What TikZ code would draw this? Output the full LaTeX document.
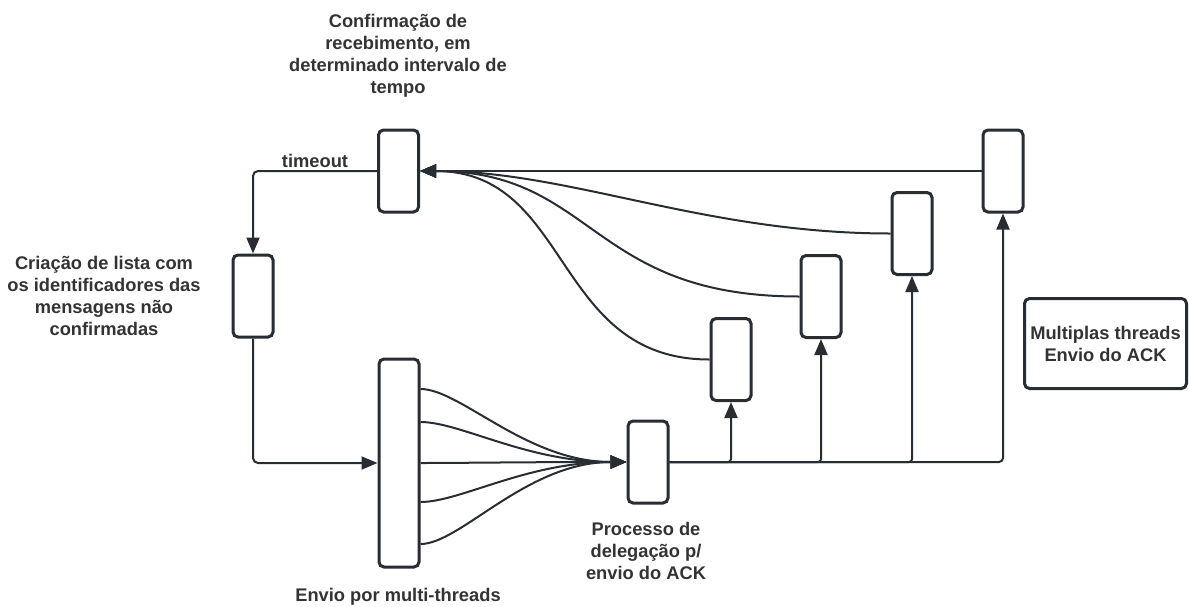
\documentclass[tikz,border=0pt]{standalone}
\usepackage{fontspec}
\setmainfont{Liberation Sans}
\usetikzlibrary{arrows.meta}
\definecolor{ink}{HTML}{282C33}
\definecolor{txt}{HTML}{333333}
\begin{document}
\begin{tikzpicture}[x=1pt,y=-1pt,
  box/.style={draw=ink, line width=3pt, rounded corners=5pt, fill=white,
              minimum width=40pt, minimum height=82pt, inner sep=0pt},
  conn/.style={draw=ink, line width=2pt, -{Triangle[length=16pt,width=13pt]}},
  lbl/.style={text=txt, font=\fontsize{18.3}{22}\selectfont\bfseries,
              align=center, inner sep=0pt}]
\useasboundingbox (0,0) rectangle (1189,606);

% process boxes
\node[box] (conf)  at (398.5,171) {};
\node[box] (crea)  at (253,296) {};
\node[box, minimum height=208pt] (envio) at (399,463) {};
\node[box] (proc)  at (648,462) {};
\node[box] (t1)    at (731,359.5) {};
\node[box] (t2)    at (821,296.5) {};
\node[box] (t3)    at (912,233.5) {};
\node[box] (t4)    at (1003,171) {};
\node[box, minimum width=162pt, minimum height=90pt, lbl, text=txt] (legend)
  at (1105.5,343.5) {Multiplas threads\\Envio do ACK};

% labels
\node[lbl] (lconf) at (398,56) {Confirmação de\\recebimento, em\\determinado intervalo de\\tempo};
\node[lbl] (ltime) at (315,161) {timeout};
\node[lbl] (lcrea) at (104,296) {Criação de lista com\\os identificadores das\\mensagens não\\confirmadas};
\node[lbl] (lenvio) at (398,597) {Envio por multi-threads};
\node[lbl] (lproc) at (646,551) {Processo de\\delegação p/\\envio do ACK};

% timeout loop back to list creation and dispatch
\draw[conn, rounded corners=5pt] (conf.west) -| (crea.north);
\draw[conn, rounded corners=5pt] (crea.south) |- (envio.west);

% fan of threads into the delegation process
\foreach \dy in {74,41,0,-39,-81}
  \draw[conn] ([yshift=\dy pt]envio.east) .. controls +(40,0) and +(-100,0) .. (proc.west);

% delegation to the ACK threads
\draw[conn, rounded corners=3pt] (proc.east) -| (t1.south);
\draw[conn, rounded corners=3pt] (proc.east) -| (t2.south);
\draw[conn, rounded corners=3pt] (proc.east) -| (t3.south);
\draw[conn, rounded corners=4pt] (proc.east) -| (t4.south);

% acknowledgements returning to the confirmation step
\draw[conn] (t4.west) -- (conf.east);
\draw[conn] (t3.west) .. controls +(-187,0) and +(151,0) .. (conf.east);
\draw[conn] (t2.west) .. controls +(-210,0) and +(175,0) .. (conf.east);
\draw[conn] (t1.west) .. controls +(-157,0) and +(152,0) .. (conf.east);
\end{tikzpicture}
\end{document}
